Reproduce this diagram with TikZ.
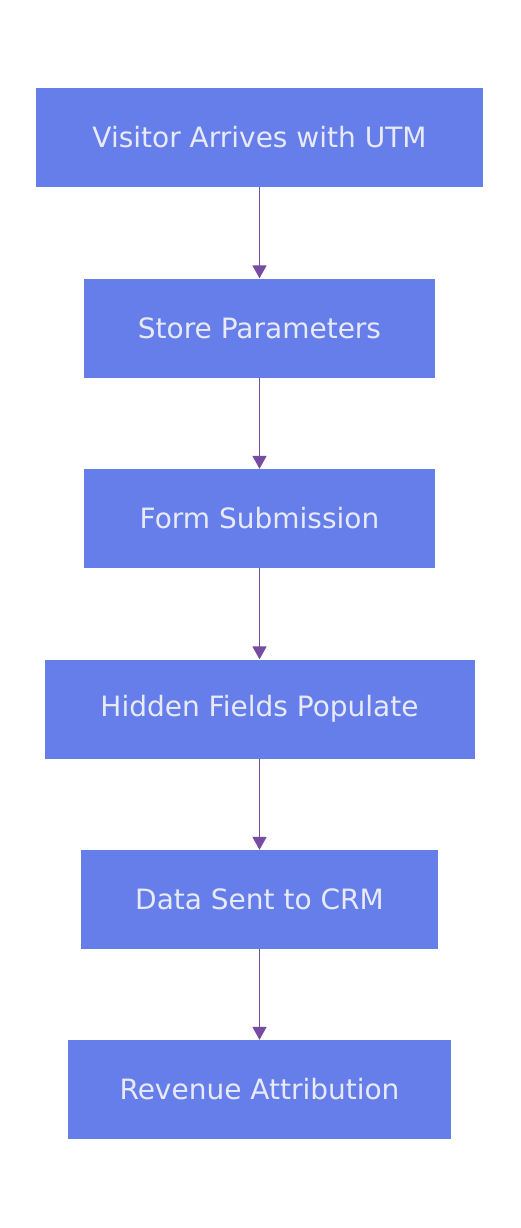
\documentclass[tikz,border=0pt]{standalone}
\usepackage{fontspec}
\setmainfont{DejaVu Sans}
\usetikzlibrary{positioning,arrows.meta}
\definecolor{boxfill}{HTML}{667EEA}
\definecolor{boxtext}{HTML}{E8EAF8}
\definecolor{flowline}{HTML}{764BA2}
\tikzset{
  stepbox/.style={draw=none, fill=boxfill, text=boxtext, minimum height=99pt,
    inner sep=0pt, font=\fontsize{28}{33}\selectfont},
  flow/.style={draw=flowline, line width=1.8pt, -{Triangle[length=13pt,width=14pt]}}
}
\begin{document}
\begin{tikzpicture}[x=1pt,y=-1pt]
    % page
    \useasboundingbox (0,0) rectangle (520,1228);
    \fill[white] (0,0) rectangle (520,1228);

    % steps
    \node[stepbox, minimum width=447pt] (visit) at (259.5,137.5) {Visitor Arrives with UTM};
    \node[stepbox, minimum width=351pt] (store) at (259.5,328) {Store Parameters};
    \node[stepbox, minimum width=351pt] (form) at (259.5,518.5) {Form Submission};
    \node[stepbox, minimum width=430pt] (hidden) at (259.5,709) {Hidden Fields Populate};
    \node[stepbox, minimum width=357pt] (crm) at (259.5,899.5) {Data Sent to CRM};
    \node[stepbox, minimum width=383pt] (revenue) at (259.5,1089.5) {Revenue Attribution};

    % arrows
    \draw[flow] (visit) -- (store);
    \draw[flow] (store) -- (form);
    \draw[flow] (form) -- (hidden);
    \draw[flow] (hidden) -- (crm);
    \draw[flow] (crm) -- (revenue);
\end{tikzpicture}
\end{document}
